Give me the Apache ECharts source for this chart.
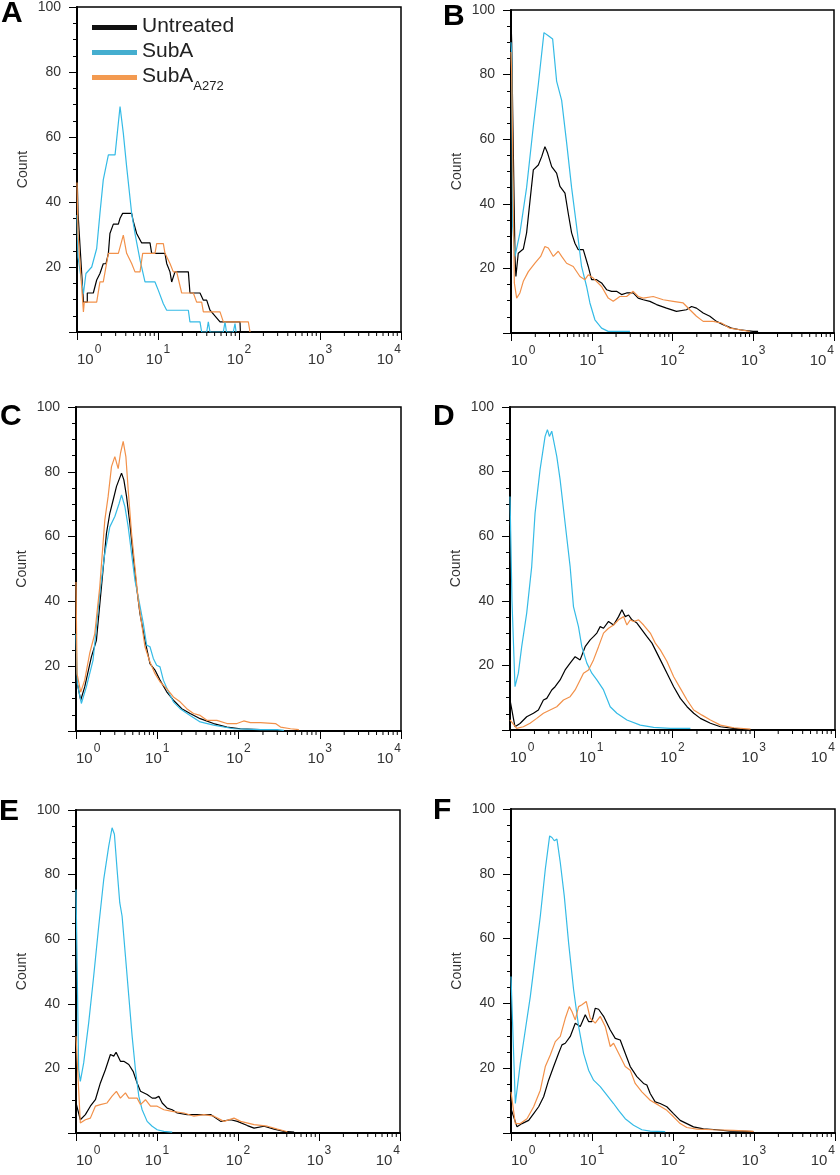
<!DOCTYPE html>
<html><head><meta charset="utf-8">
<script src="https://cdn.jsdelivr.net/npm/echarts@6/dist/echarts.min.js"></script>
<style>html,body{margin:0;padding:0;background:#fff}#c{width:840px;height:1175px}</style>
</head><body><div id="c"></div><script>
// ---- data: [fluorescence, count] ----
const aUntreated = [[1,50],[1.03,36.5],[1.2,9.2],[1.34,9.2],[1.34,12],[1.59,12],[1.75,16],[1.92,18],[2.11,21],[2.28,21],[2.44,24.2],[2.55,30.3],[2.81,33.2],[3.24,33.2],[3.4,35],[3.66,36.5],[4.73,36.5],[4.96,34],[5.45,30.3],[6.29,27.4],[7.97,27.4],[8.35,24.2],[12.2,24.2],[12.8,21.1],[14.06,18.5],[14.75,15.4],[16.2,18.5],[23.7,18.5],[24.8,12],[33,12],[36.3,9.8],[39.9,9.8],[43.85,6.7],[58.3,3.1],[102.9,3.1],[104,0]];
const aSubA = [[1,36],[1.03,23],[1.2,11.8],[1.29,18],[1.52,20],[1.75,25.7],[1.92,36.5],[2.11,46.8],[2.44,54.5],[2.95,54.5],[3.4,69.4],[3.73,61.2],[4.1,50.9],[4.73,36.5],[5.2,30.3],[6.0,22.1],[6.91,15.4],[9.18,15.4],[10.1,12.8],[11.64,8.7],[12.8,6.7],[23.7,6.7],[24.8,3.1],[33,3.1],[34.6,0],[39.9,0],[41.8,3.1],[43.85,0],[64,0],[67.2,3.1],[70,0],[85,0],[89.3,2.6],[92,0]];
const aSubA272 = [[1,46],[1.03,30],[1.2,6.2],[1.23,9.2],[1.75,9.2],[1.92,15.4],[2.11,15.4],[2.44,24.2],[3.24,24.2],[3.73,29.8],[4.1,24.2],[4.73,21.1],[5.2,18.5],[6.0,18.5],[6.47,24.2],[9.18,24.2],[9.63,27.2],[11.64,27.2],[12.2,24.2],[14.06,21.1],[15.46,18.5],[17.0,18.5],[19.6,12],[27.3,12],[30.0,9.2],[34.6,9.2],[36.3,6.2],[58.3,6.2],[64.1,3.1],[130.4,3.1],[136.8,0]];

const bUntreated = [[1,97],[1.02,90],[1.05,68],[1.12,23.7],[1.15,17.5],[1.23,24.7],[1.42,26],[1.56,31],[1.72,41],[1.89,50.5],[2.18,52],[2.4,54.6],[2.63,57.7],[2.84,55.7],[3.19,51.5],[3.67,49.5],[4.04,45.4],[4.66,43.3],[5.12,37],[5.63,31],[6.19,27.8],[6.81,25.8],[7.85,25.8],[9.05,20.6],[9.95,16.5],[11.48,16.5],[13.23,15.5],[15.26,13.4],[17.6,12.9],[20.3,12.9],[23.4,11.9],[27,12.4],[32.6,12.4],[37.6,10.8],[43.4,10.3],[52.5,9.8],[63.4,8.8],[84.3,7.7],[112,6.7],[149,7.2],[172,8.2],[198,7.7],[240,6.2],[290,5.2],[350,3.6],[424,2.6],[537,1.5],[681,1],[995,0.5],[1148,0.5]];
const bSubA = [[1,90],[1.02,86],[1.05,33],[1.12,23.7],[1.29,31],[1.56,45],[1.89,64],[2.18,77],[2.56,93],[2.9,92],[3.28,91],[3.67,78],[4.24,72],[4.88,59],[5.63,45],[6.49,33],[7.48,20.6],[8.63,14.4],[9.49,9.3],[10.94,4.1],[13.23,1.5],[16,0.5],[29.7,0.5]];
const bSubA272 = [[1,87],[1.02,80],[1.05,55],[1.1,15.5],[1.175,10.8],[1.29,12.4],[1.42,16],[1.64,19],[1.98,21.6],[2.33,23.7],[2.63,26.8],[2.9,26.3],[3.34,23.7],[3.85,25.3],[4.24,23.7],[4.88,21.6],[5.9,20.6],[7.14,17.5],[8.23,16.5],[9.05,18],[10.44,17],[13.23,14.4],[16,10.8],[18.45,9.8],[22.3,11.3],[27,11.3],[32.6,12.9],[37.6,11.3],[43.4,10.8],[57.7,11.3],[76.7,10.3],[102,9.8],[135.5,9.3],[164,7.2],[198,5.2],[240,3.6],[319,3.6],[404,3.1],[512,1.5],[681,1],[905,0.5]];

const cUntreated = [[1,18],[1.03,15],[1.142,9.5],[1.28,13.6],[1.547,22.9],[1.784,28],[2.056,44.5],[2.371,61],[2.607,67.2],[2.867,71.3],[3.152,75.5],[3.634,79.6],[3.882,77.5],[4.188,72.4],[4.605,64],[5.063,53.8],[5.567,44.5],[6.121,36.3],[7.057,28],[8.136,20.8],[9.38,18.8],[10.81,15.7],[13.07,12.1],[15.8,9.5],[20.04,6.9],[25.4,5.4],[33.76,3.8],[49.33,2.3],[72.11,1.2],[105.4,0.7],[186.2,0.4]];
const cSubA = [[1,30],[1.04,14.6],[1.164,8.5],[1.342,13.6],[1.623,21.9],[1.961,42.5],[2.261,54.8],[2.607,63],[3.006,66.2],[3.4,70.3],[3.634,72.9],[3.994,69.3],[4.391,63],[4.828,54.8],[5.309,46.6],[5.837,41.4],[6.73,33.2],[7.4,26.5],[8.136,26],[8.946,22.4],[9.835,20.3],[10.81,19.8],[11.89,15.7],[13.71,12.1],[15.8,9],[19.11,6.9],[25.4,4.8],[33.76,2.8],[49.33,1.8],[87.17,0.7],[186.2,0.4],[299.1,0.4],[361.6,0.2]];
const cSubA272 = [[1,46],[1.03,17.7],[1.142,12],[1.28,15.7],[1.475,24],[1.701,30],[1.961,44.5],[2.261,65],[2.486,72.4],[2.734,81.6],[3.006,84.7],[3.305,81],[3.532,85.8],[3.809,89.4],[4.11,84.7],[4.391,74.4],[4.828,61],[5.309,50.7],[5.837,40.4],[6.418,33.2],[7.057,26],[8.136,21.3],[9.38,17.7],[10.81,15.2],[13.07,13.1],[15.8,10.5],[19.11,9],[23.1,6.9],[27.93,5.4],[33.76,4.8],[40.81,3.3],[54.24,3.3],[72.11,2.3],[95.84,2.3],[115.9,3.1],[140.1,2.6],[186.2,2.6],[285.2,2.3],[328.9,1.2],[437.1,0.7],[554.1,0.4]];

const dUntreated = [[1,9.3],[1.152,1],[1.328,2],[1.605,4.1],[1.941,5.2],[2.236,6.2],[2.577,9.3],[2.834,9.8],[3.265,12.4],[3.589,13.4],[4.137,15.5],[4.769,18.6],[5.495,20.7],[6.333,22.7],[7.3,21.7],[8.414,25.8],[9.696,27.9],[10.66,28.9],[11.72,30],[12.88,32],[14.16,31.5],[16.32,33.6],[18.81,32.5],[21.69,35.1],[23.84,37.2],[26.2,35.1],[28.8,35.6],[31.66,34.1],[36.49,33.1],[42.06,31],[48.48,28.9],[55.88,26.9],[64.41,23.8],[74.23,20.7],[85.53,17.6],[103.4,13.4],[124.9,9.8],[151,7.2],[182.4,5.2],[220.4,3.6],[292.8,2.1],[388.9,1],[568.1,0.5],[686.5,0.3]];
const dSubA = [[1,72.3],[1.058,40],[1.152,13.4],[1.267,17.6],[1.393,25.8],[1.605,36.2],[1.85,50.6],[2.034,67.1],[2.344,80.6],[2.703,90.9],[2.888,93],[3.055,90.9],[3.265,92.5],[3.422,93],[3.763,84.7],[4.137,77.5],[4.769,64],[5.495,50.6],[6.041,38.2],[6.963,32],[7.654,25.8],[8.822,20.7],[10.17,17.6],[11.72,15.5],[14.16,12.4],[17.11,7.2],[20.68,5.2],[27.47,3.1],[40.12,1.5],[58.59,0.8],[94.03,0.5],[166,0.5]];
const dSubA272 = [[1,3.1],[1.208,0.5],[1.46,1],[1.765,2.1],[2.133,3.6],[2.577,5.2],[3.113,6.2],[3.763,7.2],[4.548,9.3],[5.495,10.3],[6.333,12.4],[7.3,15.5],[8.024,17.6],[9.25,18.6],[10.66,21.7],[12.29,25.8],[14.16,30],[16.32,31.5],[18.81,32.5],[21.69,34.1],[24.99,35.1],[27.47,32.5],[30.2,34.1],[33.2,33.6],[38.26,34.1],[44.1,32.5],[53.3,30],[61.43,26.9],[70.79,24.8],[85.53,21.2],[103.4,16.5],[124.9,12.9],[151,9.3],[182.4,6.2],[231.1,4.6],[292.8,3.1],[388.9,1.5],[568.1,0.7],[911.8,0.3]];

const eUntreated = [[1,9.3],[1.131,4.1],[1.305,5.7],[1.504,8.3],[1.735,10.3],[2.0,15.5],[2.306,19.6],[2.659,24.3],[2.924,23.8],[3.125,25],[3.536,22.2],[3.889,22.2],[4.483,21.2],[5.072,19.1],[5.683,15.5],[6.25,12.9],[7.557,11.9],[8.713,10.8],[9.581,10.8],[10.54,11.4],[11.59,9.3],[13.36,7.7],[15.4,7.2],[17.76,6.2],[23.62,5.7],[34.53,5.7],[45.92,5.7],[61.05,3.6],[81.17,4.1],[98.13,3.6],[130.5,2.3],[157.8,1.5],[209.7,2.1],[278.9,1.2],[370.8,0.5],[493,0.3]];
const eSubA = [[1,75.4],[1.079,19.6],[1.131,16],[1.244,21.7],[1.434,34.1],[1.654,48.6],[1.907,64],[2.199,78.5],[2.536,88.8],[2.789,94.5],[2.98,92.5],[3.215,81.6],[3.469,71.3],[3.708,67.1],[4.077,54.8],[4.483,42.4],[4.93,30],[5.42,19.6],[5.961,11.4],[6.554,7.2],[7.557,3.6],[8.713,2.1],[10.05,1],[12.15,0.5],[15.4,0.3]];
const eSubA272 = [[1,30],[1.131,3.1],[1.305,4.1],[1.504,4.6],[1.735,8.3],[2.0,8.8],[2.418,9.3],[2.789,11.4],[3.155,12.9],[3.536,10.8],[4.077,12.4],[4.483,10.8],[5.168,10.8],[5.683,10.8],[6.25,8.8],[7.208,10.3],[8.31,8.3],[10.05,8.3],[12.15,7.2],[15.4,6.7],[21.48,6.2],[28.56,5.2],[37.97,5.7],[50.49,5.2],[67.13,3.6],[89.25,4.6],[107.9,3.6],[157.8,2.6],[230.7,2.1],[306.7,1.2],[407.7,0.4]];

const fUntreated = [[1,7.5],[1.186,1.9],[1.367,2.9],[1.652,3.9],[1.904,6],[2.194,8.1],[2.529,11.2],[2.914,16.3],[3.36,20.5],[3.871,24.6],[4.256,27.2],[4.679,27.7],[5.393,29.8],[6.215,33.9],[7.164,32.9],[8.257,36.5],[9.076,34.4],[9.977,34.4],[10.97,38.5],[12.06,38.2],[13.9,36],[16.8,31.8],[19.36,29.2],[22.31,28.7],[25.71,24.6],[29.64,20.5],[35.81,17.4],[43.27,15.3],[47.57,14.8],[52.3,12.2],[60.26,9.6],[69.45,9.1],[83.95,8.1],[101.4,6],[122.6,3.9],[148.1,2.9],[179,1.9],[237.8,1.3],[347.3,1],[507,0.6],[673.6,0.6],[983.6,0.4]];
const fSubA = [[1,48.3],[1.131,9.1],[1.164,9.5],[1.303,21.5],[1.502,31.8],[1.731,42.1],[1.996,54.5],[2.3,66.9],[2.651,81.4],[2.999,91.7],[3.204,91.2],[3.424,90.2],[3.692,90.7],[4.059,83.5],[4.548,73.1],[5.143,58.7],[5.929,44.2],[6.832,32.9],[7.874,24.6],[9.076,19.4],[10.46,16.3],[12.64,14.3],[15.28,11.7],[18.46,9.1],[21.28,7],[25.71,4.4],[32.59,2.4],[41.27,1],[52.3,0.6],[80.08,0.4]];
const fSubA272 = [[1,12.7],[1.131,2.9],[1.303,2.9],[1.575,4.4],[1.904,8.1],[2.3,13.2],[2.651,20.5],[3.056,24.1],[3.523,28.2],[4.059,29.8],[4.679,35.4],[5.242,39],[5.654,37.5],[6.215,34.9],[6.832,39],[7.509,39.6],[8.494,40.6],[9.515,35.4],[10.97,33.9],[12.64,36],[14.57,32.9],[16.8,26.7],[18.46,27.7],[22.31,23.6],[25.71,20.5],[29.64,19.4],[34.16,15.3],[41.27,12.7],[52.3,10.1],[66.25,8.6],[83.95,7],[101.4,5],[122.6,2.9],[148.1,1.7],[196.8,1.2],[315.9,1],[557.3,0.8],[983.6,0.5]];

const panelLetters = ['A','B','C','D','E','F'];
const seriesNames = ['Untreated','SubA','SubA A272'];
const yTickLabels = [20,40,60,80,100];
const xMinorTickValues = [2,3,4,5,6,7,8,9,20,30,40,50,60,70,80,90,200,300,400,500,600,700,800,900,2000,3000,4000,5000,6000,7000,8000,9000];

const panelData = [
  [aUntreated, aSubA, aSubA272],
  [bUntreated, bSubA, bSubA272],
  [cUntreated, cSubA, cSubA272],
  [dUntreated, dSubA, dSubA272],
  [eUntreated, eSubA, eSubA272],
  [fUntreated, fSubA, fSubA272]
];

// ---- layout / style ----
const FONT = '"Liberation Sans", Arial, sans-serif';
const lineColors = ['#000000', '#35bbe6', '#f2914a'];
const legendColors = ['#111111', '#45aecf', '#f39a50'];
const gridBoxes = [
  {left:77, top:7, width:324, height:325},
  {left:511, top:10, width:323, height:323},
  {left:76, top:407, width:325, height:324},
  {left:510, top:407, width:325, height:323},
  {left:76, top:810, width:324, height:323},
  {left:511, top:809, width:324, height:324}
];
const letterPos = [[1,-1],[443,2],[0,402],[433,402],[-1,797],[433,796]];

const grid = [], xAxis = [], yAxis = [], series = [], graphic = [];
gridBoxes.forEach((g, i) => {
  grid.push(Object.assign({show:true, borderColor:'#000', borderWidth:1.5, backgroundColor:'#fff', containLabel:false}, g));
  xAxis.push({
    type:'log', logBase:10, gridIndex:i, min:1, max:10000,
    splitLine:{show:false},
    axisLine:{show:true, lineStyle:{color:'#000', width:2}},
    axisTick:{show:true, length:8, lineStyle:{color:'#000', width:1}},
    axisLabel:{
      margin:12, color:'#333', fontFamily:FONT,
      alignMinLabel:'left', alignMaxLabel:'right',
      formatter: v => '{b|10}{s|' + Math.round(Math.log10(v)) + '}',
      rich:{
        b:{fontSize:15, color:'#333', fontFamily:FONT, lineHeight:15, padding:[8,0,0,0], verticalAlign:'top'},
        s:{fontSize:12, color:'#333', fontFamily:FONT, lineHeight:12, padding:[0,0,0,1], verticalAlign:'top'}
      }
    }
  });
  yAxis.push({
    type:'value', gridIndex:i, min:0, max:100, interval:20,
    name:'Count', nameLocation:'middle', nameGap:47,
    nameTextStyle:{fontSize:14, color:'#333', fontFamily:FONT},
    splitLine:{show:false},
    axisLine:{show:true, lineStyle:{color:'#000', width:2}},
    axisTick:{show:true, length:8, lineStyle:{color:'#000', width:1}},
    minorTick:{show:true, splitNumber:4, length:4, lineStyle:{color:'#000', width:1}},
    axisLabel:{showMinLabel:false, margin:16, fontSize:14, color:'#333', fontFamily:FONT,
      formatter: v => yTickLabels.indexOf(v) >= 0 ? String(v) : ''}
  });
  panelData[i].forEach((d, k) => {
    series.push({
      type:'line', name:seriesNames[k], xAxisIndex:i, yAxisIndex:i,
      data:d, showSymbol:false, symbol:'none', smooth:false,
      lineStyle:{color:lineColors[k], width:1.2}, itemStyle:{color:lineColors[k]},
      z: 3 + k
    });
  });
  series.push({
    type:'custom', xAxisIndex:i, yAxisIndex:i, clip:false, silent:true, z:10,
    data: xMinorTickValues.map(v => [v, 0]),
    renderItem: (params, api) => {
      const p = api.coord([api.value(0), 0]);
      return {type:'line', shape:{x1:p[0], y1:p[1], x2:p[0], y2:p[1] + 4}, style:{stroke:'#000', lineWidth:1}};
    }
  });
  graphic.push({type:'text', left:letterPos[i][0], top:letterPos[i][1],
    style:{text:panelLetters[i], font:'bold 30px ' + FONT, fill:'#000'}});
});

const chart = echarts.init(document.getElementById('c'), null, {renderer:'canvas'});
chart.setOption({
  animation:false,
  backgroundColor:'#fff',
  textStyle:{fontFamily:FONT},
  grid, xAxis, yAxis, series, graphic,
  legend:{
    left:92, top:16, orient:'vertical', padding:0, itemGap:4,
    itemWidth:45, itemHeight:5, icon:'rect', selectedMode:false,
    data: seriesNames.map((n, k) => ({name:n, itemStyle:{color:legendColors[k]}})),
    formatter: n => n === 'SubA A272' ? '{m|SubA}{s|A272}' : '{m|' + n + '}',
    textStyle:{fontSize:21, color:'#222', fontFamily:FONT,
      rich:{
        m:{fontSize:21, color:'#222', fontFamily:FONT, lineHeight:23, verticalAlign:'top'},
        s:{fontSize:13, color:'#222', fontFamily:FONT, lineHeight:13, padding:[14,0,0,0], verticalAlign:'top'}
      }
    }
  }
});
</script></body></html>
